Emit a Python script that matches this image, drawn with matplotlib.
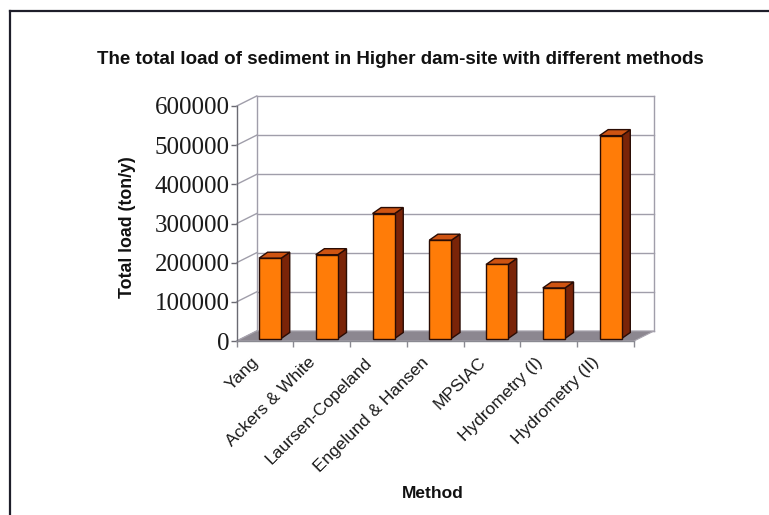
import matplotlib
matplotlib.use("Agg")
import matplotlib.pyplot as plt
from matplotlib import transforms
from matplotlib.patches import Polygon
from matplotlib.lines import Line2D

# ---- data -------------------------------------------------------------
methods = ["Yang", "Ackers & White", "Laursen-Copeland", "Engelund & Hansen",
           "MPSIAC", "Hydrometry (I)", "Hydrometry (II)"]
total_load = [205000, 214000, 319000, 251000, 189000, 129000, 518000]
y_ticks = [0, 100000, 200000, 300000, 400000, 500000, 600000]
y_tick_labels = [str(v) for v in y_ticks]

title = "The total load of sediment in Higher dam-site with different methods"
x_title = "Method"
y_title = "Total load (ton/y)"

# ---- figure / front plane of the 3-D box --------------------------------
W, H, DPI = 769, 515, 100
fig = plt.figure(figsize=(W / DPI, H / DPI), dpi=DPI)
fig.patch.set_facecolor("white")

fx0, fx1 = 236.7, 634.0       # pixel extent of the front plane (x)
fy0, fy1 = 341.0, 106.0       # pixel rows of 0 and 600000 on the front axis
ax = fig.add_axes([fx0 / W, (H - fy0) / H, (fx1 - fx0) / W, (fy0 - fy1) / H])
ax.set_xlim(-0.5, len(methods) - 0.5)
ax.set_ylim(0, 600000)
ax.patch.set_visible(False)

# depth of the box (back wall offset) expressed in data units
depth_px = (20.0, 10.0)
dx = depth_px[0] * len(methods) / (fx1 - fx0)
dy = depth_px[1] * 600000 / (fy0 - fy1)

xl, xr = -0.5, len(methods) - 0.5
ytop = 600000
grid_c = "#a09eaa"
floor_c = "#8c8790"


def line(xs, ys, **kw):
    ax.add_line(Line2D(xs, ys, clip_on=False, **kw))


def poly(pts, **kw):
    ax.add_patch(Polygon(pts, closed=True, clip_on=False, **kw))


# back wall
poly([(xl + dx, dy), (xr + dx, dy), (xr + dx, ytop + dy), (xl + dx, ytop + dy)],
     facecolor="white", edgecolor="none", zorder=1)
for v in y_ticks:
    # gridline on the back wall and its continuation on the left wall
    line([xl + dx, xr + dx], [v + dy, v + dy], color=grid_c, lw=1.0, zorder=2)
    line([xl, xl + dx], [v, v + dy], color=grid_c, lw=1.0, zorder=2)
line([xl + dx, xl + dx], [dy, ytop + dy], color=grid_c, lw=1.0, zorder=2)
line([xr + dx, xr + dx], [dy, ytop + dy], color=grid_c, lw=1.0, zorder=2)

# floor
poly([(xl, 0), (xr, 0), (xr + dx, dy), (xl + dx, dy)],
     facecolor=floor_c, edgecolor="#a8a4ae", lw=0.8, zorder=3)

# bars (front face, right side, top)
bar_w = 0.39
f0 = 0.25                 # depth of the bar front face
fbx, fby = 0.43, 0.60     # bar depth (x and y share of the box depth)
front_c, top_c, side_c, edge_c = "#ff7c08", "#cf5412", "#7a2408", "#2a0c04"
for i, v in enumerate(total_load):
    a = i - bar_w / 2 + f0 * dx
    b = i + bar_w / 2 + f0 * dx
    a1, b1 = a + fbx * dx, b + fbx * dx
    y0 = f0 * dy
    y1 = y0 + fby * dy
    poly([(b, y0), (b1, y1), (b1, v + y1), (b, v + y0)],
         facecolor=side_c, edgecolor=edge_c, lw=1.0, zorder=5)
    poly([(a, v + y0), (b, v + y0), (b1, v + y1), (a1, v + y1)],
         facecolor=top_c, edgecolor=edge_c, lw=1.0, zorder=5)
    poly([(a, y0), (b, y0), (b, v + y0), (a, v + y0)],
         facecolor=front_c, edgecolor=edge_c, lw=1.0, zorder=6)

# ---- axes lines, ticks and labels ---------------------------------------
for s in ("top", "right"):
    ax.spines[s].set_visible(False)
ax.spines["left"].set_color("#6a6a72")
ax.spines["left"].set_linewidth(1.0)
ax.spines["bottom"].set_color("#8a8a92")
ax.spines["bottom"].set_linewidth(1.0)
ax.spines["left"].set_zorder(4)
ax.spines["bottom"].set_zorder(4)

ax.set_yticks(y_ticks)
ax.set_yticklabels(y_tick_labels)
ax.tick_params(axis="y", length=4, width=1, color="#6a6a72", pad=1, labelsize=18)
for lbl in ax.get_yticklabels():
    lbl.set_fontfamily("Liberation Serif")
    lbl.set_color("#1a1a1a")

ax.set_xticks([i - 0.5 for i in range(len(methods) + 1)])
ax.set_xticklabels([])
ax.tick_params(axis="x", length=4, width=1, color="#8a8a92")

lbl_tr = transforms.offset_copy(ax.transData, fig=fig, x=-9, y=-19, units="dots")
for i, name in enumerate(methods):
    ax.text(i, 0, name, transform=lbl_tr, rotation=45, rotation_mode="anchor",
            ha="right", va="center", fontsize=12.5, family="Liberation Sans",
            color="#1a1a1a")

fig.text(400 / W, 1 - 60 / H, title, ha="center", va="center",
         fontsize=13.5, fontweight="bold", family="Liberation Sans", color="#111111")
fig.text(128 / W, 1 - 227 / H, y_title, ha="center", va="center", rotation=90,
         fontsize=12.8, fontweight="bold", family="Liberation Sans", color="#111111")
fig.text(433 / W, 1 - 493 / H, x_title, ha="center", va="center",
         fontsize=12.5, fontweight="bold", family="Liberation Sans", color="#111111")

# outer frame of the chart area
fig.add_artist(Line2D([10 / W, 10 / W], [0, 1 - 11 / H], transform=fig.transFigure,
                      color="#1e1e2a", lw=1.6))
fig.add_artist(Line2D([10 / W, 1], [1 - 11 / H, 1 - 11 / H], transform=fig.transFigure,
                      color="#1e1e2a", lw=1.6))

fig.savefig("out.png", dpi=DPI)
